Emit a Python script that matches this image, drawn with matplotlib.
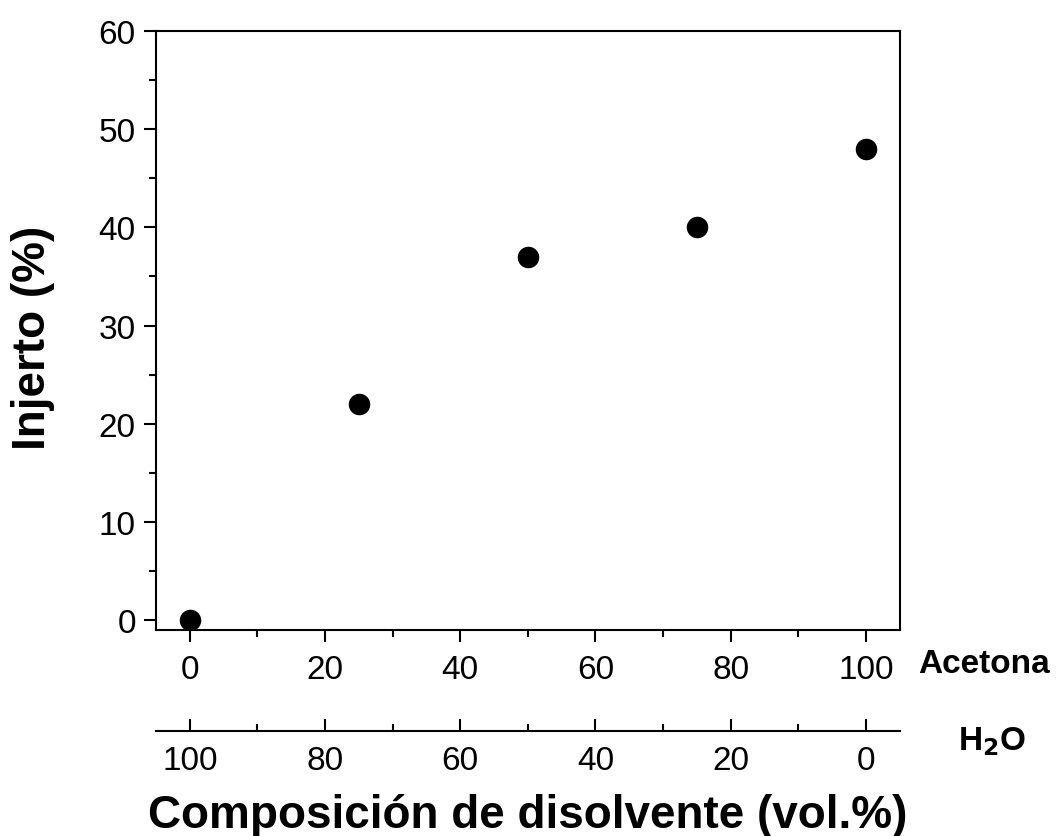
import matplotlib
matplotlib.use("Agg")
import matplotlib.pyplot as plt
from matplotlib.ticker import MultipleLocator

plt.rcParams['font.family'] = ['Liberation Sans', 'DejaVu Sans']

acetona = [0, 25, 50, 75, 100]
injerto = [0, 22, 37, 40, 48]

fig = plt.figure(figsize=(10.61, 8.37), dpi=100)
ax = fig.add_axes([0.147, 0.246, 0.701, 0.716])

ax.plot(acetona, injerto, 'o', color='black', markersize=14.5)

ax.set_xlim(-5, 105)
ax.set_ylim(-1, 60)
ax.xaxis.set_major_locator(MultipleLocator(20))
ax.xaxis.set_minor_locator(MultipleLocator(10))
ax.yaxis.set_major_locator(MultipleLocator(10))
ax.yaxis.set_minor_locator(MultipleLocator(5))
for s in ax.spines.values():
    s.set_linewidth(1.5)
ax.tick_params(which='major', direction='out', length=8.5, width=1.5, labelsize=24, pad=6)
ax.tick_params(which='minor', direction='out', length=5, width=1.5)
ax.tick_params(axis='x', which='major', pad=9)
ax.set_ylabel('Injerto (%)', fontsize=33, fontweight='bold', va='center', ha='center')
ax.yaxis.set_label_coords(-0.166, 0.489)

# segundo eje: agua
ax2 = ax.twiny()
ax2.set_xlim(105, -5)
ax2.xaxis.set_ticks_position('bottom')
ax2.xaxis.set_label_position('bottom')
ax2.spines['bottom'].set_position(('outward', 72.7))
for side in ['top', 'left', 'right']:
    ax2.spines[side].set_visible(False)
ax2.spines['bottom'].set_linewidth(1.5)
ax2.xaxis.set_major_locator(MultipleLocator(20))
ax2.xaxis.set_minor_locator(MultipleLocator(10))
ax2.tick_params(which='major', direction='in', length=8.5, width=1.5, labelsize=24, pad=10)
ax2.tick_params(which='minor', direction='in', length=5, width=1.5)
ax2.set_xlabel('Composición de disolvente (vol.%)', fontsize=33, fontweight='bold', va='baseline')
ax2.xaxis.set_label_coords(0.5, -0.329)

fig.text(0.865, 0.196, 'Acetona', fontsize=24, fontweight='bold', va='baseline', ha='left')
fig.text(0.903, 0.104, r'H$_\mathbf{2}$O', fontsize=24, fontweight='bold', va='baseline', ha='left')

fig.savefig('out.png', dpi=100)
